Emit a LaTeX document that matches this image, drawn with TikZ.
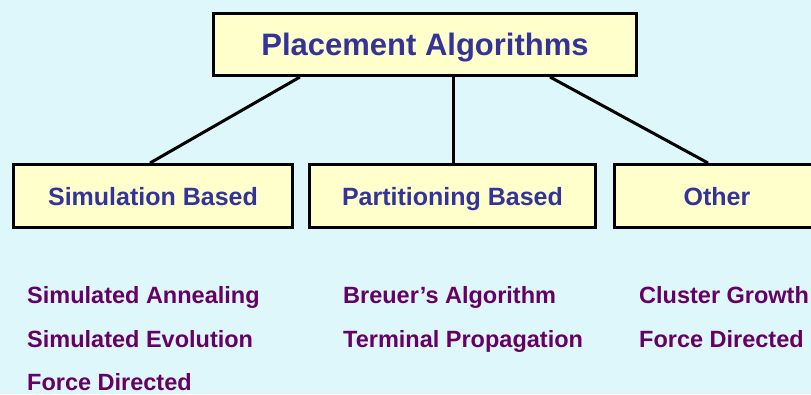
\documentclass[tikz,border=0pt]{standalone}
\usepackage{fontspec}
\setmainfont{Liberation Sans}
\usetikzlibrary{calc}
\definecolor{bgc}{HTML}{DDF7FB}
\definecolor{boxc}{HTML}{FFFFCC}
\definecolor{headc}{HTML}{333399}
\definecolor{itemc}{HTML}{660066}
\tikzset{
  catbox/.style={draw=black, line width=3pt, fill=boxc, inner sep=0pt, text=headc,
    font=\bfseries\fontsize{25}{30}\selectfont, text height=18pt, text depth=0pt},
  topbox/.style={catbox, font=\bfseries\fontsize{31}{36}\selectfont, text height=22pt},
  item/.style={anchor=base west, inner sep=0pt, text=itemc, font=\bfseries\fontsize{23.5}{28}\selectfont},
  link/.style={line width=3pt, black}
}
\begin{document}
\begin{tikzpicture}[x=1pt,y=-1pt]
\fill[bgc] (0,0) rectangle (811,394);
\useasboundingbox (0,0) rectangle (811,394);
\node[topbox, minimum width=423pt, minimum height=62pt] (top) at (425,44.5) {Placement Algorithms};
\node[catbox, minimum width=279pt, minimum height=63pt] (sim) at (153,196) {Simulation Based};
\node[catbox, minimum width=286pt, minimum height=63pt] (part) at (452.5,196) {Partitioning Based};
\node[catbox, minimum width=205pt, minimum height=63pt] (oth) at (717,196) {Other};
\draw[link] ([xshift=-125pt]top.south) -- ([xshift=-3pt]sim.north);
\draw[link] ([xshift=28pt]top.south) -- ([xshift=0.5pt]part.north);
\draw[link] ([xshift=125pt]top.south) -- ([xshift=-9pt]oth.north);
\node[item] (a1) at (27,303) {Simulated Annealing};
\node[item] (a2) at (27,347) {Simulated Evolution};
\node[item] (a3) at (27,390) {Force Directed};
\node[item] (b1) at (343,303) {Breuer’s Algorithm};
\node[item] (b2) at (343,347) {Terminal Propagation};
\node[item] (c1) at (639,303) {Cluster Growth};
\node[item] (c2) at (639,347) {Force Directed};
\end{tikzpicture}
\end{document}
